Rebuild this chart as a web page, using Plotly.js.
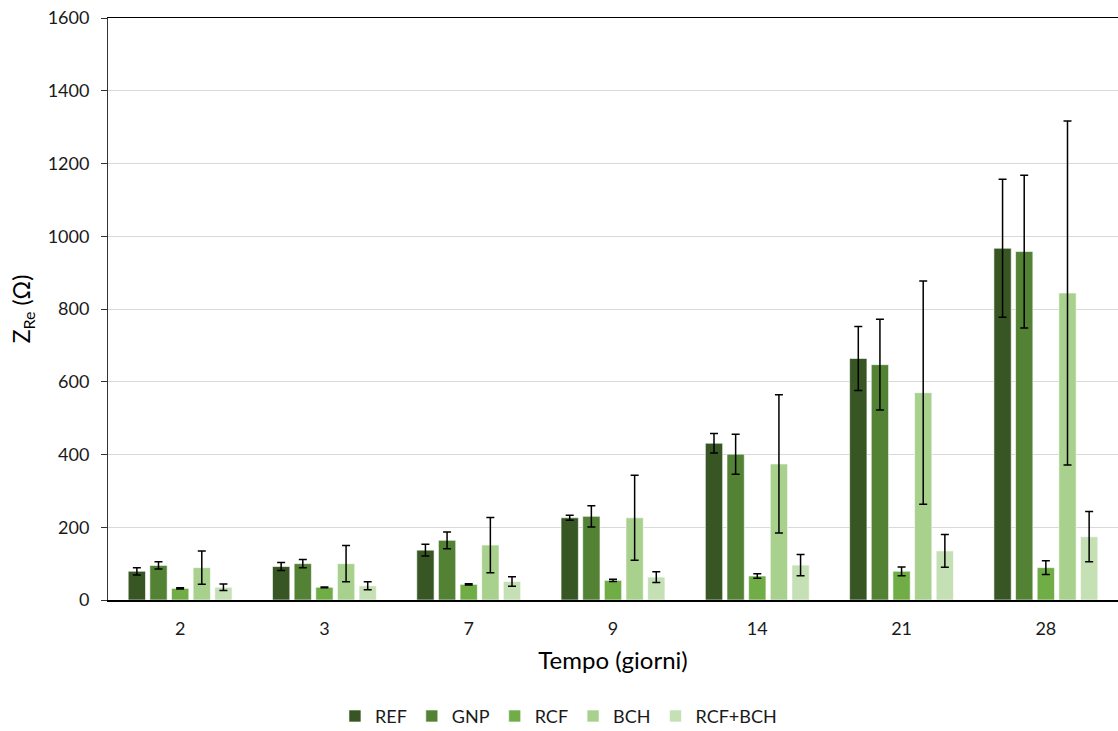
<!DOCTYPE html>
<html>
<head>
<meta charset="utf-8">
<script src="https://cdn.plot.ly/plotly-3.0.1.min.js"></script>
<style>html,body{margin:0;padding:0;background:#fff;}#chart{width:1118px;height:731px;}</style>
</head>
<body>
<div id="chart"></div>
<script>
const categories = ["2", "3", "7", "9", "14", "21", "28"];
const seriesNames = ["REF", "GNP", "RCF", "BCH", "RCF+BCH"];
const REF = [79, 92, 137, 226, 431, 664, 967];
const REF_err = [10, 11, 16, 7, 27, 88, 190];
const GNP = [95, 100, 164, 230, 401, 647, 958];
const GNP_err = [10, 11, 23, 29, 55, 125, 210];
const RCF = [32, 35, 43, 54, 66, 79, 89];
const RCF_err = [2, 1, 2, 3, 6, 12, 19];
const BCH = [89, 100, 151, 226, 374, 570, 844];
const BCH_err = [46, 50, 76, 117, 190, 307, 473];
const RCFBCH = [35, 39, 51, 63, 96, 135, 174];
const RCFBCH_err = [9, 11, 13, 15, 29, 45, 69];

const values = [REF, GNP, RCF, BCH, RCFBCH];
const errors = [REF_err, GNP_err, RCF_err, BCH_err, RCFBCH_err];
const colors = ["#375623", "#548235", "#70AD47", "#A9D18E", "#C5E0B4"];
const FONT = "Lato, 'Open Sans', sans-serif";

const traces = seriesNames.map((n, i) => ({
  type: "bar",
  name: n,
  x: categories,
  y: values[i],
  marker: {color: colors[i], line: {color: "rgba(255,255,255,0.6)", width: 1}},
  error_y: {type: "data", array: errors[i], visible: true, color: "#000", thickness: 1.5, width: 4}
}));

const layout = {
  width: 1118, height: 731,
  margin: {l: 108, r: 0, t: 18, b: 131, autoexpand: false},
  paper_bgcolor: "#fff", plot_bgcolor: "#fff",
  barmode: "group", bargap: 0.25, bargroupgap: 0.2,
  font: {family: FONT, size: 18, color: "#000"},
  xaxis: {
    type: "category",
    showline: true, linecolor: "#000", linewidth: 1.5, mirror: true,
    ticks: "", tickfont: {size: 18, color: "#1a1a1a"}, ticklabelstandoff: 12,
    title: {text: "Tempo (giorni)", font: {size: 24, color: "#000"}, standoff: 14}
  },
  yaxis: {
    range: [0, 1600], dtick: 200,
    showline: true, linecolor: "#333", linewidth: 1,
    ticks: "outside", ticklen: 6, tickcolor: "#333", ticklabelstandoff: 8,
    gridcolor: "#d9d9d9", gridwidth: 1, zeroline: false,
    tickfont: {size: 18, color: "#1a1a1a"},
    title: {text: "Z<sub>Re</sub> (Ω)", font: {size: 23, color: "#000"}, standoff: 10}
  },
  legend: {
    orientation: "h", x: 0.446, xanchor: "center", y: -0.168, yanchor: "top",
    font: {size: 18, color: "#1a1a1a"}, itemwidth: 30, traceorder: "normal"
  },
  showlegend: true
};

Plotly.newPlot("chart", traces, layout, {displayModeBar: false, staticPlot: true});
</script>
</body>
</html>
